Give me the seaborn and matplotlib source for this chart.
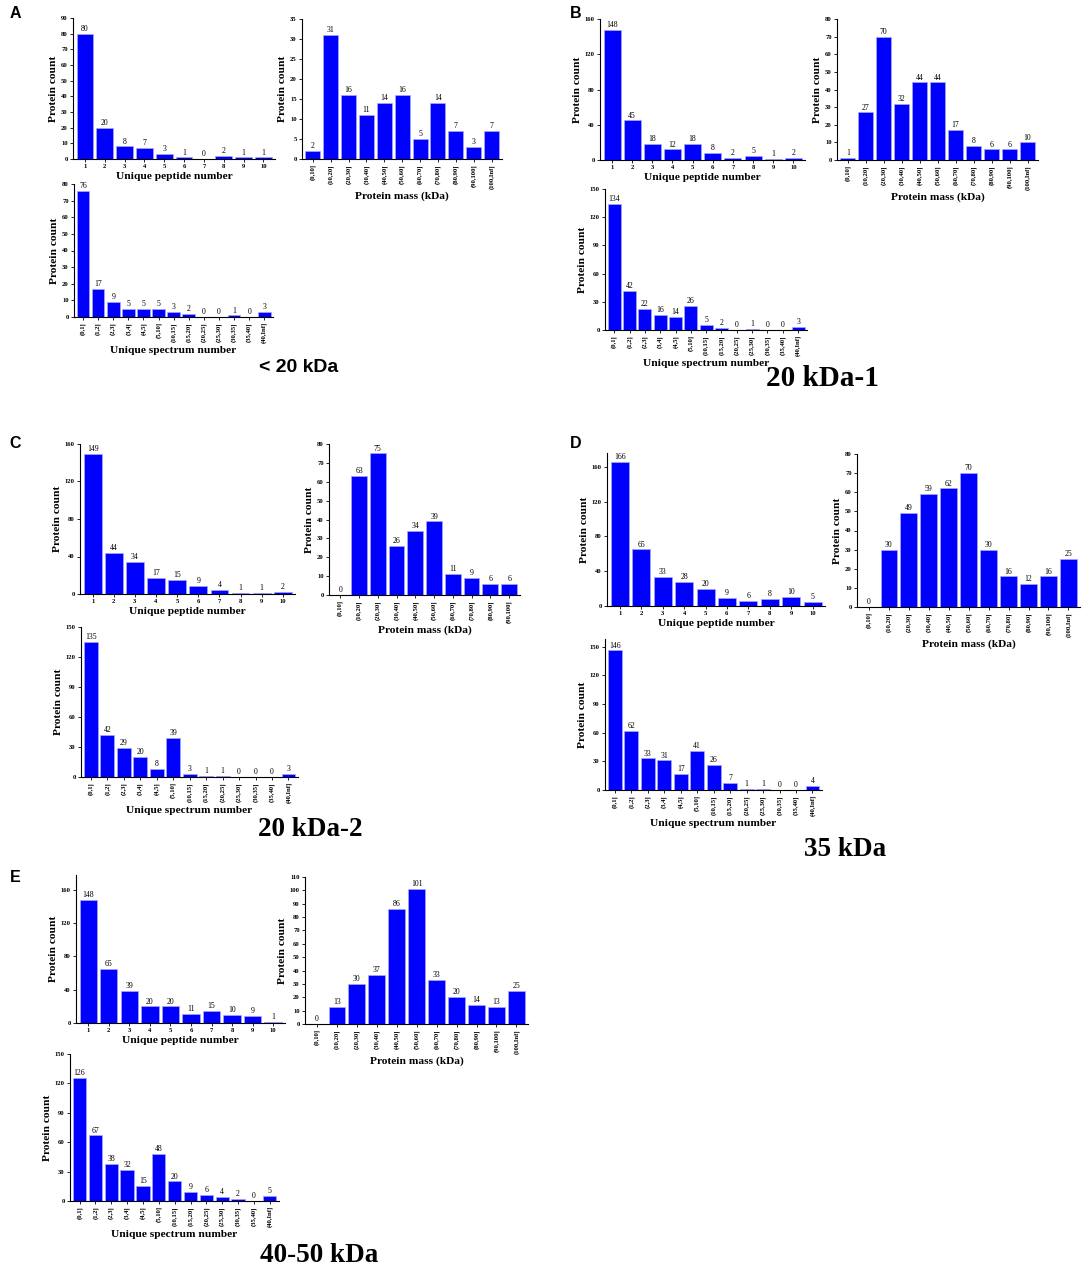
import matplotlib
matplotlib.use("Agg")
import matplotlib.pyplot as plt
import seaborn as sns
import pandas as pd

sns.set_style("ticks")
plt.rcParams['font.family'] = ['Liberation Serif', 'DejaVu Serif']
plt.rcParams['text.color'] = 'black'
plt.rcParams['axes.labelcolor'] = 'black'
plt.rcParams['xtick.color'] = 'black'
plt.rcParams['ytick.color'] = 'black'

# ---- categories ----
peptide_cats = ["1", "2", "3", "4", "5", "6", "7", "8", "9", "10"]
spectrum_cats = ["(0,1]", "(1,2]", "(2,3]", "(3,4]", "(4,5]", "(5,10]", "(10,15]",
                 "(15,20]", "(20,25]", "(25,30]", "(30,35]", "(35,40]", "(40,Inf]"]
mass_cats = ["(0,10]", "(10,20]", "(20,30]", "(30,40]", "(40,50]", "(50,60]",
             "(60,70]", "(70,80]", "(80,90]", "(90,100]", "(100,Inf]"]
mass_cats_c = mass_cats[:10]

# ---- values ----
a_peptide = [80, 20, 8, 7, 3, 1, 0, 2, 1, 1]
a_mass = [2, 31, 16, 11, 14, 16, 5, 14, 7, 3, 7]
a_spectrum = [76, 17, 9, 5, 5, 5, 3, 2, 0, 0, 1, 0, 3]

b_peptide = [148, 45, 18, 12, 18, 8, 2, 5, 1, 2]
b_mass = [1, 27, 70, 32, 44, 44, 17, 8, 6, 6, 10]
b_spectrum = [134, 42, 22, 16, 14, 26, 5, 2, 0, 1, 0, 0, 3]

c_peptide = [149, 44, 34, 17, 15, 9, 4, 1, 1, 2]
c_mass = [0, 63, 75, 26, 34, 39, 11, 9, 6, 6]
c_spectrum = [135, 42, 29, 20, 8, 39, 3, 1, 1, 0, 0, 0, 3]

d_peptide = [166, 65, 33, 28, 20, 9, 6, 8, 10, 5]
d_mass = [0, 30, 49, 59, 62, 70, 30, 16, 12, 16, 25]
d_spectrum = [146, 62, 33, 31, 17, 41, 26, 7, 1, 1, 0, 0, 4]

e_peptide = [148, 65, 39, 20, 20, 11, 15, 10, 9, 1]
e_mass = [0, 13, 30, 37, 86, 101, 33, 20, 14, 13, 25]
e_spectrum = [126, 67, 38, 32, 15, 48, 20, 9, 6, 4, 2, 0, 5]

panel_letters = ["A", "B", "C", "D", "E"]
panel_titles = ["< 20 kDa", "20 kDa-1", "20 kDa-2", "35 kDa", "40-50 kDa"]

W, H = 1084, 1268
fig = plt.figure(figsize=(W / 100, H / 100), dpi=100)

BAR = "#0000ff"


def add_ax(l, t, r, b):
    return fig.add_axes([l / W, 1 - b / H, (r - l) / W, (b - t) / H])


def draw(rect, cats, vals, ymax, step, tickmax, xlabel, rot):
    ax = add_ax(*rect)
    df = pd.DataFrame({"cat": cats, "val": vals})
    sns.barplot(data=df, x="cat", y="val", order=cats, ax=ax, color=BAR,
                saturation=1, width=0.84, edgecolor="#a8a8ff", linewidth=0.5)
    ax.set_xlim(-0.6, len(cats) - 0.42)
    ax.set_ylim(0, ymax)
    ax.set_yticks(list(range(0, tickmax + 1, step)))
    sns.despine(ax=ax)
    for s in ("left", "bottom"):
        ax.spines[s].set_linewidth(0.8)
        ax.spines[s].set_color("black")
    ax.tick_params(axis="both", direction="out", length=2.2, width=0.6,
                   pad=1.5, labelsize=4.8, colors="black")
    for lab in ax.get_xticklabels() + ax.get_yticklabels():
        lab.set_fontweight("bold")
    if rot:
        ax.tick_params(axis="x", labelrotation=90)
    ax.set_xlabel(xlabel, fontsize=8.2, fontweight="bold", labelpad=2, color="black")
    ax.set_ylabel("Protein count", fontsize=8.2, fontweight="bold", labelpad=2, color="black")
    ax.bar_label(ax.containers[0], fontsize=5.6, padding=0.6, color="black")
    return ax


PEP = "Unique peptide number"
SPEC = "Unique spectrum number"
MASS = "Protein mass (kDa)"

# Panel A
draw((73, 18, 275, 159), peptide_cats, a_peptide, 90, 10, 90, PEP, False)
draw((74, 184, 273, 317), spectrum_cats, a_spectrum, 80, 10, 80, SPEC, True)
draw((302, 19, 502, 159), mass_cats, a_mass, 35, 5, 35, MASS, True)
# Panel B
draw((600, 19, 805, 160), peptide_cats, b_peptide, 160, 40, 160, PEP, False)
draw((605, 189, 807, 330), spectrum_cats, b_spectrum, 150, 30, 150, SPEC, True)
draw((837, 19, 1038, 160), mass_cats, b_mass, 80, 10, 80, MASS, True)
# Panel C
draw((80, 444, 295, 594), peptide_cats, c_peptide, 160, 40, 160, PEP, False)
draw((81, 627, 298, 777), spectrum_cats, c_spectrum, 150, 30, 150, SPEC, True)
draw((329, 444, 520, 595), mass_cats_c, c_mass, 80, 10, 80, MASS, True)
# Panel D
draw((607, 453, 825, 606), peptide_cats, d_peptide, 176, 40, 160, PEP, False)
draw((605, 639, 822, 790), spectrum_cats, d_spectrum, 158, 30, 150, SPEC, True)
draw((857, 454, 1080, 607), mass_cats, d_mass, 80, 10, 80, MASS, True)
# Panel E
draw((76, 875, 285, 1023), peptide_cats, e_peptide, 178, 40, 160, PEP, False)
draw((70, 1054, 279, 1201), spectrum_cats, e_spectrum, 150, 30, 150, SPEC, True)
draw((305, 877, 528, 1024), mass_cats, e_mass, 110, 10, 110, MASS, True)

# panel letters
letter_pos = [(15, 14), (576, 14), (15, 444), (576, 444), (15, 878)]
for (x, y), L in zip(letter_pos, panel_letters):
    fig.text(x / W, 1 - y / H, L, fontsize=11.5, fontweight="bold", color="black",
             family=["Liberation Sans", "DejaVu Sans"], ha="center", va="center")

# panel titles
title_pos = [(299, 367), (822, 379), (310, 829), (845, 850), (319, 1256)]
title_sizes = [14, 21, 19.5, 19.5, 19.5]
title_fams = [["Liberation Sans", "DejaVu Sans"]] + [["Liberation Serif", "DejaVu Serif"]] * 4
for (x, y), t, s, f in zip(title_pos, panel_titles, title_sizes, title_fams):
    fig.text(x / W, 1 - y / H, t, fontsize=s, fontweight="bold", family=f,
             color="black", ha="center", va="center")

fig.savefig("out.png", dpi=100)
